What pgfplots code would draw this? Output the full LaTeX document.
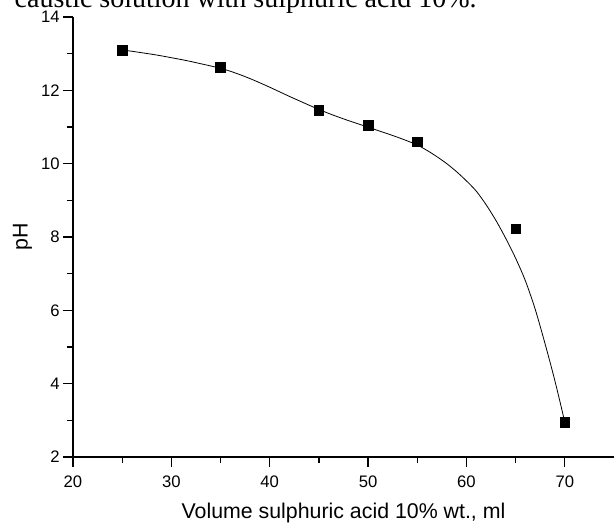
\documentclass[border=0pt]{standalone}
\usepackage{pgfplots}
\pgfplotsset{compat=1.18}
\usepackage{fontspec}
\setmainfont{Liberation Sans}
\newfontfamily\capfont{Liberation Serif}

\begin{document}
\begin{tikzpicture}
\useasboundingbox (-54.75pt,-48.75pt) rectangle (407.25pt,342.75pt);
\begin{axis}[
  scale only axis, width=405.75pt, height=330pt,
  xmin=20, xmax=75, ymin=2, ymax=14,
  axis lines=left, axis line style={-, line width=1.1pt},
  xtick={20,30,...,70}, ytick={2,4,...,14},
  minor x tick num=1, minor y tick num=1,
  tick align=outside, major tick length=7.5pt, minor tick length=4.5pt,
  tick style={line width=0.9pt, black},
  ticklabel style={font=\fontsize{12.5}{14}\selectfont},
  xticklabel style={yshift=-3pt},
  yticklabel style={xshift=1pt},
  /pgf/number format/assume math mode=true,
  xlabel={Volume sulphuric acid 10\% wt., ml},
  ylabel={pH},
  label style={font=\fontsize{16}{18}\selectfont},
  xlabel style={yshift=-4.5pt},
  clip=false,
]
% fitted curve
\addplot[black, line width=0.6pt, smooth, tension=0.5] coordinates {
  (25,13.10) (26,13.065) (27,13.025) (28,12.985) (29,12.94) (30,12.89)
  (31,12.84) (32,12.785) (33,12.725) (34,12.665) (35,12.60) (36,12.52)
  (37,12.425) (38,12.32) (39,12.205) (40,12.085) (41,11.96) (42,11.835)
  (43,11.715) (44,11.595) (45,11.48) (46,11.37) (47,11.27) (48,11.175)
  (49,11.085) (50,10.995) (51,10.905) (52,10.815) (53,10.72) (54,10.62)
  (55,10.51) (56,10.36) (57,10.19) (58,10.00) (59,9.78) (60,9.53)
  (61,9.25) (62,8.88) (63,8.45) (64,7.96) (65,7.42) (66,6.80)
  (67,6.02) (68,5.08) (69,4.07) (70,2.95)
};
% measured points
\addplot[only marks, mark=square*, mark size=3.6pt, black] coordinates {
  (25,13.10) (35,12.63) (45,11.46) (50,11.04) (55,10.60) (65,8.23) (70,2.94)
};
\end{axis}
\node[anchor=base west, font=\capfont\fontsize{21}{24}\selectfont] at (-47.25pt,336.75pt) {caustic solution with sulphuric acid 10\%.};
\end{tikzpicture}
\end{document}
